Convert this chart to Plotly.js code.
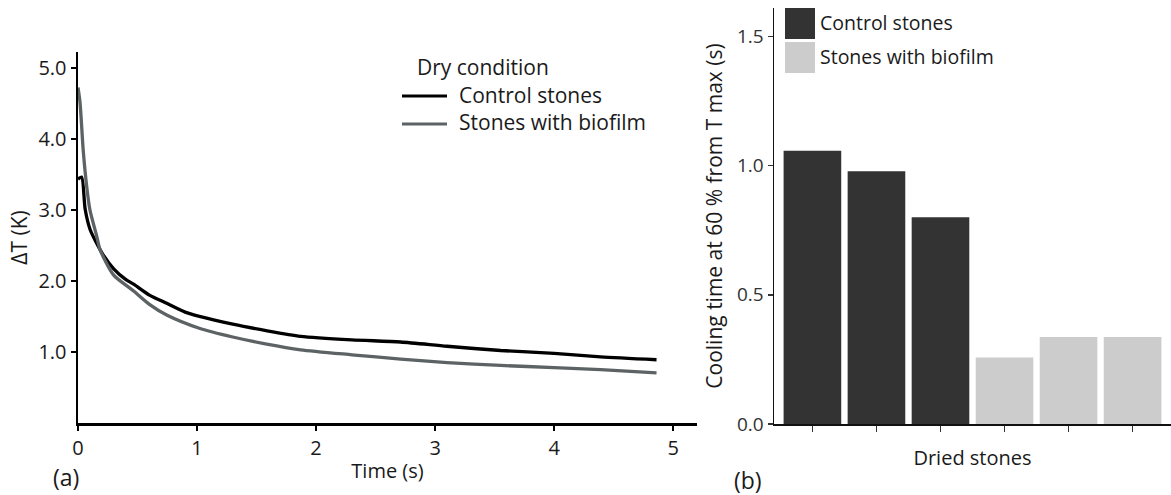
<!DOCTYPE html>
<html>
<head>
<meta charset="utf-8">
<script src="https://cdn.plot.ly/plotly-3.0.1.min.js"></script>
<style>html,body{margin:0;padding:0;background:#fff;}#chart{width:1171px;height:495px;}</style>
</head>
<body>
<div id="chart"></div>
<script>
// ---- Data ----
const timeControl = [0, 0.03, 0.06, 0.1, 0.15, 0.21, 0.3, 0.4, 0.47, 0.6, 0.75, 0.9, 1.02, 1.3, 1.58, 1.87, 2.3, 2.71, 3.1, 3.55, 4.0, 4.39, 4.86];
const deltaTControl = [3.43, 3.46, 3.01, 2.73, 2.55, 2.37, 2.17, 2.02, 1.95, 1.80, 1.68, 1.56, 1.50, 1.39, 1.30, 1.22, 1.17, 1.14, 1.08, 1.02, 0.98, 0.93, 0.89];
const timeBiofilm = [0, 0.017, 0.045, 0.073, 0.1, 0.157, 0.185, 0.3, 0.465, 0.6, 0.745, 1.025, 1.3, 1.585, 1.87, 2.3, 2.71, 3.1, 3.55, 4.0, 4.39, 4.86];
const deltaTBiofilm = [4.72, 4.51, 3.81, 3.33, 3.0, 2.63, 2.44, 2.08, 1.86, 1.67, 1.52, 1.33, 1.21, 1.11, 1.03, 0.96, 0.90, 0.85, 0.81, 0.78, 0.75, 0.705];

const stoneIndex = [1, 2, 3, 4, 5, 6];
const stoneGroup = ["Control stones", "Control stones", "Control stones", "Stones with biofilm", "Stones with biofilm", "Stones with biofilm"];
const coolingTime = [1.058, 0.978, 0.800, 0.257, 0.337, 0.337];

const xTickVals = [0, 1, 2, 3, 4, 5];
const yTickVals = [1, 2, 3, 4, 5];
const yTickText = ["1.0", "2.0", "3.0", "4.0", "5.0"];
const barTickVals = [0, 0.5, 1.0, 1.5];
const barTickText = ["0.0", "0.5", "1.0", "1.5"];

// ---- Styling ----
const W = 1171, H = 495;
const px = x => x / W;
const py = y => 1 - y / H;
const FONT = "Open Sans, sans-serif";
const colControl = "#000000";
const colBiofilm = "#5d6364";
const barDark = "#333333";
const barLight = "#cccccc";

const traces = [
  {x: timeControl, y: deltaTControl, type: "scatter", mode: "lines", name: "Control stones",
   line: {color: colControl, width: 3.3, shape: "spline", smoothing: 0.7}, xaxis: "x", yaxis: "y", showlegend: false},
  {x: timeBiofilm, y: deltaTBiofilm, type: "scatter", mode: "lines", name: "Stones with biofilm",
   line: {color: colBiofilm, width: 3.3, shape: "spline", smoothing: 0.7}, xaxis: "x", yaxis: "y", showlegend: false},
  {x: stoneIndex, y: coolingTime, type: "bar", width: 0.9,
   marker: {color: stoneGroup.map(g => g === "Control stones" ? barDark : barLight)},
   xaxis: "x2", yaxis: "y2", showlegend: false, text: stoneGroup, hoverinfo: "y+text", textposition: "none"}
];

const layout = {
  width: W, height: H,
  margin: {l: 0, r: 0, t: 0, b: 0},
  paper_bgcolor: "#fff", plot_bgcolor: "#fff",
  font: {family: FONT, color: "#1a1a1a", size: 18},
  xaxis: {
    domain: [px(78), px(697)], anchor: "y", range: [0, 5.2],
    tickvals: xTickVals, ticks: "outside", ticklen: 5, tickwidth: 2, tickcolor: "#000",
    showline: true, linewidth: 2.5, linecolor: "#000", showgrid: false, zeroline: false,
    tickfont: {size: 20}, automargin: false,
    title: {text: "Time (s)", font: {size: 20}, standoff: 5}
  },
  yaxis: {
    domain: [py(423), py(52)], anchor: "x", range: [0, 5.22],
    tickvals: yTickVals, ticktext: yTickText, ticks: "outside", ticklen: 5, tickwidth: 2, tickcolor: "#000",
    showline: true, linewidth: 2.5, linecolor: "#000", showgrid: false, zeroline: false,
    tickfont: {size: 20}, automargin: false,
    title: {text: "ΔT (K)", font: {size: 21}, standoff: 5}
  },
  xaxis2: {
    domain: [px(774), 1], anchor: "y2", range: [0.4, 6.6],
    tickvals: stoneIndex, showticklabels: false, ticks: "outside", ticklen: 6, tickwidth: 1.5, tickcolor: "#333",
    showline: true, linewidth: 1.5, linecolor: "#111", showgrid: false, zeroline: false, automargin: false,
    title: {text: "Dried stones", font: {size: 20}, standoff: 20}
  },
  yaxis2: {
    domain: [py(424), py(8)], anchor: "x2", range: [0, 1.61],
    tickvals: barTickVals, ticktext: barTickText, ticks: "outside", ticklen: 5, tickwidth: 1.5, tickcolor: "#333",
    showline: true, linewidth: 1.5, linecolor: "#111", showgrid: false, zeroline: false,
    tickfont: {size: 19, color: "#333"}, automargin: false,
    title: {text: "Cooling time at 60 % from T max (s)", font: {size: 21}, standoff: 8}
  },
  bargap: 0.1,
  shapes: [
    // left legend line samples
    {type: "line", xref: "paper", yref: "paper", x0: px(402), x1: px(447), y0: py(96), y1: py(96), line: {color: colControl, width: 3}},
    {type: "line", xref: "paper", yref: "paper", x0: px(402), x1: px(447), y0: py(124), y1: py(124), line: {color: colBiofilm, width: 3}},
    // right legend swatches
    {type: "rect", xref: "paper", yref: "paper", x0: px(785), x1: px(815), y0: py(39), y1: py(8), fillcolor: barDark, line: {width: 0}},
    {type: "rect", xref: "paper", yref: "paper", x0: px(785), x1: px(815), y0: py(73), y1: py(42), fillcolor: barLight, line: {width: 0}}
  ],
  annotations: [
    {text: "Dry condition", xref: "paper", yref: "paper", x: px(415), y: py(67), xanchor: "left", yanchor: "middle", showarrow: false, font: {size: 21}},
    {text: "Control stones", xref: "paper", yref: "paper", x: px(457), y: py(95), xanchor: "left", yanchor: "middle", showarrow: false, font: {size: 21}},
    {text: "Stones with biofilm", xref: "paper", yref: "paper", x: px(457), y: py(122), xanchor: "left", yanchor: "middle", showarrow: false, font: {size: 21}},
    {text: "Control stones", xref: "paper", yref: "paper", x: px(818), y: py(23), xanchor: "left", yanchor: "middle", showarrow: false, font: {size: 19.5}},
    {text: "Stones with biofilm", xref: "paper", yref: "paper", x: px(818), y: py(57), xanchor: "left", yanchor: "middle", showarrow: false, font: {size: 19.5}},
    {text: "(a)", xref: "paper", yref: "paper", x: px(66), y: py(477), xanchor: "center", yanchor: "middle", showarrow: false, font: {size: 23}},
    {text: "(b)", xref: "paper", yref: "paper", x: px(748), y: py(480), xanchor: "center", yanchor: "middle", showarrow: false, font: {size: 23}}
  ]
};

Plotly.newPlot("chart", traces, layout, {displayModeBar: false, staticPlot: true});
</script>
</body>
</html>
